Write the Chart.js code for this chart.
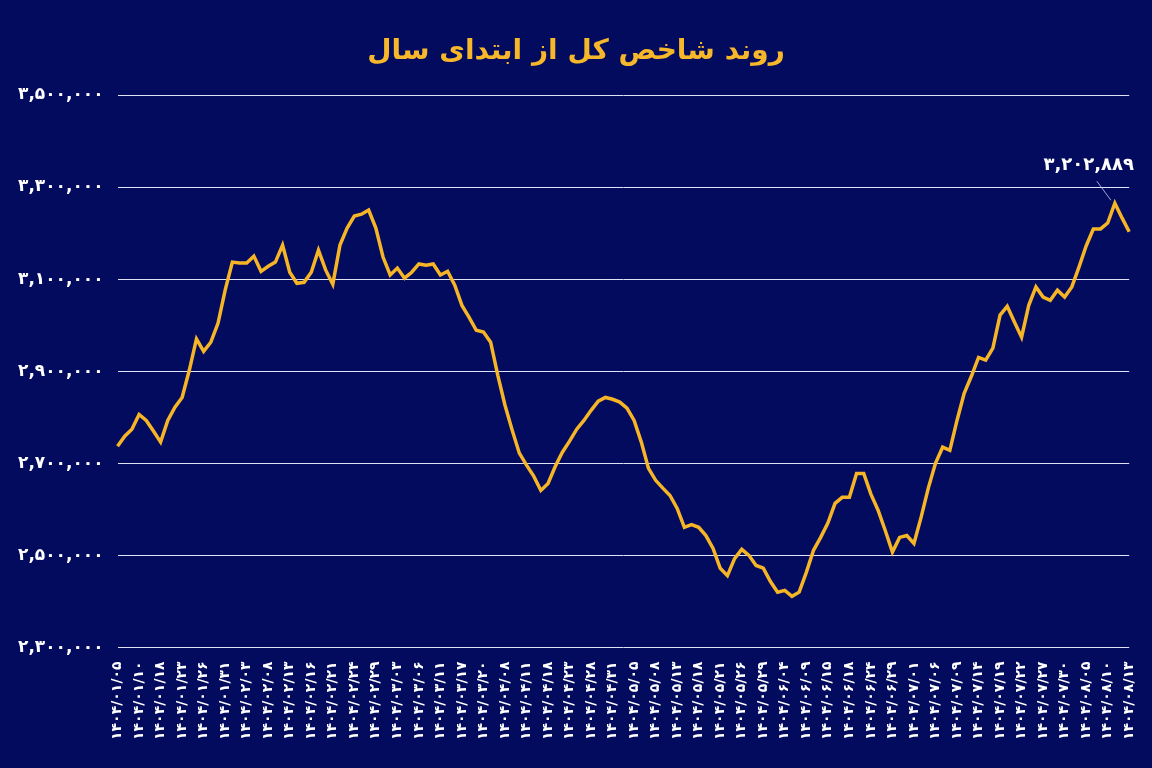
<!DOCTYPE html>
<html>
<head>
<meta charset="utf-8">
<script src="https://cdn.jsdelivr.net/npm/chart.js@4"></script>
<style>
  html, body { margin: 0; padding: 0; background: #030b5e; }
  #wrap { width: 1152px; height: 768px; position: relative; }
</style>
</head>
<body>
<div id="wrap"><canvas id="myChart" width="1152" height="768"></canvas></div>
<script>
var chartTitle = 'روند شاخص کل از ابتدای سال';

// dates shown on the axis (every third trading day)
var tickDates = [
    '۱۴۰۴/۰۱/۰۵', '۱۴۰۴/۰۱/۱۰', '۱۴۰۴/۰۱/۱۸', '۱۴۰۴/۰۱/۲۳', '۱۴۰۴/۰۱/۲۶', '۱۴۰۴/۰۱/۳۱',
    '۱۴۰۴/۰۲/۰۳', '۱۴۰۴/۰۲/۰۸', '۱۴۰۴/۰۲/۱۳', '۱۴۰۴/۰۲/۱۶', '۱۴۰۴/۰۲/۲۱', '۱۴۰۴/۰۲/۲۴',
    '۱۴۰۴/۰۲/۲۹', '۱۴۰۴/۰۳/۰۳', '۱۴۰۴/۰۳/۰۶', '۱۴۰۴/۰۳/۱۱', '۱۴۰۴/۰۳/۱۷', '۱۴۰۴/۰۳/۲۰',
    '۱۴۰۴/۰۴/۰۸', '۱۴۰۴/۰۴/۱۱', '۱۴۰۴/۰۴/۱۸', '۱۴۰۴/۰۴/۲۳', '۱۴۰۴/۰۴/۲۸', '۱۴۰۴/۰۴/۳۱',
    '۱۴۰۴/۰۵/۰۵', '۱۴۰۴/۰۵/۰۸', '۱۴۰۴/۰۵/۱۳', '۱۴۰۴/۰۵/۱۸', '۱۴۰۴/۰۵/۲۱', '۱۴۰۴/۰۵/۲۶',
    '۱۴۰۴/۰۵/۲۹', '۱۴۰۴/۰۶/۰۴', '۱۴۰۴/۰۶/۰۹', '۱۴۰۴/۰۶/۱۵', '۱۴۰۴/۰۶/۱۸', '۱۴۰۴/۰۶/۲۴',
    '۱۴۰۴/۰۶/۲۹', '۱۴۰۴/۰۷/۰۱', '۱۴۰۴/۰۷/۰۶', '۱۴۰۴/۰۷/۰۹', '۱۴۰۴/۰۷/۱۴', '۱۴۰۴/۰۷/۱۹',
    '۱۴۰۴/۰۷/۲۲', '۱۴۰۴/۰۷/۲۷', '۱۴۰۴/۰۷/۳۰', '۱۴۰۴/۰۸/۰۵', '۱۴۰۴/۰۸/۱۰', '۱۴۰۴/۰۸/۱۳'
];

// index values
var indexValues = [
    2737000, 2759000, 2774000, 2806000, 2793000, 2770000, 2746000, 2793000, 2822000, 2843000,
    2902000, 2970000, 2943000, 2963000, 3004000, 3076000, 3137000, 3135000, 3135000, 3150000,
    3117000, 3128000, 3137000, 3174000, 3115000, 3091000, 3093000, 3115000, 3163000, 3120000,
    3089000, 3174000, 3211000, 3237000, 3241000, 3250000, 3211000, 3148000, 3109000, 3124000,
    3102000, 3115000, 3133000, 3130000, 3133000, 3109000, 3117000, 3087000, 3043000, 3017000,
    2989000, 2985000, 2963000, 2891000, 2826000, 2772000, 2722000, 2696000, 2672000, 2641000,
    2656000, 2693000, 2724000, 2748000, 2774000, 2793000, 2815000, 2835000, 2843000, 2839000,
    2833000, 2820000, 2793000, 2746000, 2689000, 2663000, 2646000, 2630000, 2602000, 2561000,
    2567000, 2561000, 2543000, 2515000, 2472000, 2456000, 2493000, 2513000, 2500000, 2478000,
    2472000, 2443000, 2420000, 2424000, 2411000, 2420000, 2463000, 2511000, 2539000, 2570000,
    2613000, 2626000, 2626000, 2678000, 2678000, 2633000, 2598000, 2554000, 2507000, 2539000,
    2543000, 2526000, 2583000, 2646000, 2700000, 2735000, 2728000, 2793000, 2852000, 2889000,
    2930000, 2924000, 2950000, 3022000, 3041000, 3007000, 2974000, 3043000, 3083000, 3061000,
    3054000, 3076000, 3061000, 3083000, 3126000, 3172000, 3209000, 3209000, 3222000, 3265000,
    3233000, 3202889
];

var yTicks = [2300000, 2500000, 2700000, 2900000, 3100000, 3300000, 3500000];
var calloutIndex = 139;
var calloutText = '۳,۲۰۲,۸۸۹';

var labels = indexValues.map(function (v, i) {
    return i % 3 === 0 ? tickDates[i / 3] : '';
});

function toFa(s) {
    return String(s).replace(/\d/g, function (d) { return '۰۱۲۳۴۵۶۷۸۹'[d]; });
}

var extras = {
    id: 'extras',
    afterDraw: function (chart) {
        var c = chart.ctx;
        c.save();
        c.fillStyle = '#f7b72a';
        c.font = 'bold 28px "DejaVu Sans"';
        c.textAlign = 'center';
        c.textBaseline = 'middle';
        c.fillText(chartTitle, 576, 52);

        var x = chart.scales.x.getPixelForValue(calloutIndex);
        var y = chart.scales.y.getPixelForValue(indexValues[calloutIndex]);
        c.strokeStyle = '#c8cde8';
        c.lineWidth = 0.8;
        c.beginPath();
        c.moveTo(x - 4, y - 3);
        c.lineTo(x - 18, y - 22);
        c.stroke();
        c.fillStyle = '#ffffff';
        c.font = 'bold 18px "DejaVu Sans"';
        c.textAlign = 'right';
        c.fillText(calloutText, 1134, 165);
        c.restore();
    }
};

window.onload = function () {
    var ctx = document.getElementById('myChart').getContext('2d');
    new Chart(ctx, {
        type: 'line',
        data: {
            labels: labels,
            datasets: [{
                data: indexValues,
                borderColor: '#f6b526',
                borderWidth: 3.5,
                pointRadius: 0,
                tension: 0,
                fill: false
            }]
        },
        options: {
            responsive: false,
            animation: false,
            layout: { padding: { top: 95, right: 22, left: 4, bottom: 22 } },
            plugins: { legend: { display: false }, tooltip: { enabled: false } },
            scales: {
                x: {
                    offset: false,
                    grid: { display: false },
                    border: { display: false },
                    ticks: {
                        autoSkip: false,
                        maxRotation: 90,
                        minRotation: 90,
                        padding: 6,
                        color: '#ffffff',
                        font: { family: 'DejaVu Sans', size: 14, weight: 'bold' }
                    }
                },
                y: {
                    min: 2300000,
                    max: 3500000,
                    afterBuildTicks: function (axis) {
                        axis.ticks = yTicks.map(function (v) { return { value: v }; });
                    },
                    grid: { color: '#dfe3f5', lineWidth: 1, drawTicks: false },
                    border: { display: false },
                    ticks: {
                        padding: 14,
                        color: '#ffffff',
                        font: { family: 'DejaVu Sans', size: 17, weight: 'bold' },
                        callback: function (v) { return toFa(v.toLocaleString('en-US')); }
                    }
                }
            }
        },
        plugins: [extras]
    });
};
</script>
</body>
</html>
